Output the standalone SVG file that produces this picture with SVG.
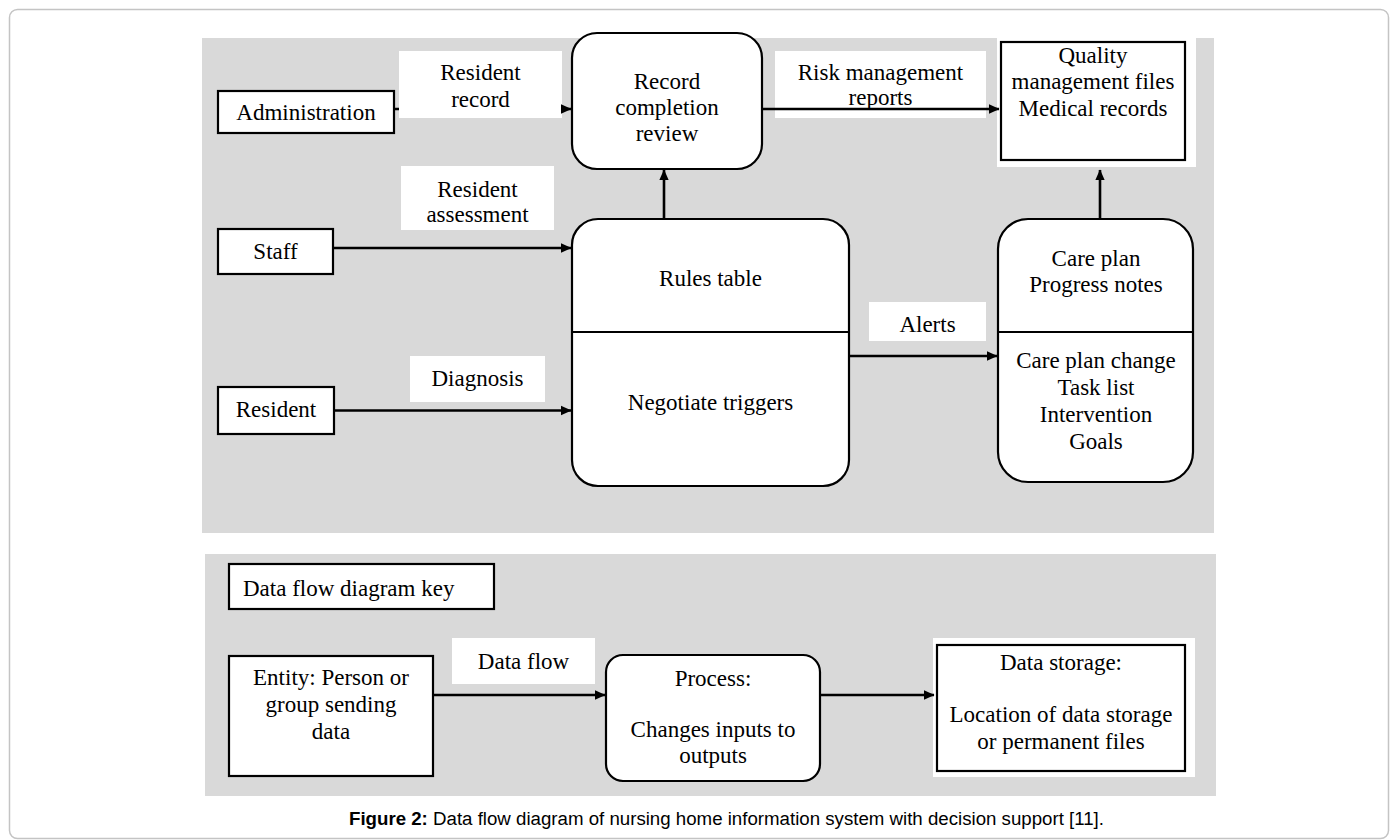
<svg xmlns="http://www.w3.org/2000/svg" width="1398" height="840" viewBox="0 0 1398 840">
  <style>
    .panel { fill: #d9d9d9; }
    .box { fill: #ffffff; stroke: #000000; stroke-width: 2.2; }
    .lbl { fill: #ffffff; }
    .t { font-family: "Liberation Serif", "Times New Roman", serif; font-size: 23px; fill: #000000; text-anchor: middle; }
    .conn { stroke: #000000; stroke-width: 2.6; fill: none; marker-end: url(#arrow); }
    .div { stroke: #000000; stroke-width: 2; }
  </style>
  <defs>
    <marker id="arrow" markerUnits="userSpaceOnUse" viewBox="0 0 10 10" markerWidth="11" markerHeight="11" refX="9.5" refY="5" orient="auto">
      <path d="M0,0.6 L10,5 L0,9.4 z" fill="#000000"/>
    </marker>
  </defs>

  <rect x="9.5" y="9.5" width="1379" height="829" rx="8" fill="#ffffff" stroke="#c4c4c4" stroke-width="1.5"/>

  <rect class="panel" x="202" y="38" width="1012" height="495"/>
  <rect class="panel" x="205" y="554" width="1011" height="242"/>

  <g id="administration">
    <rect class="box" x="218" y="91" width="176" height="42"/>
    <text class="t" x="306" y="120">Administration</text>
  </g>
  <g id="staff">
    <rect class="box" x="218" y="229" width="115" height="45"/>
    <text class="t" x="275.5" y="259">Staff</text>
  </g>
  <g id="resident">
    <rect class="box" x="218" y="387" width="116" height="47"/>
    <text class="t" x="276" y="417">Resident</text>
  </g>
  <g id="record-review">
    <rect class="box" x="572" y="33" width="190" height="136" rx="25"/>
    <text class="t" x="667" y="89">Record</text>
    <text class="t" x="667" y="115">completion</text>
    <text class="t" x="667" y="141">review</text>
  </g>
  <g id="rules">
    <rect class="box" x="572" y="219" width="277" height="267" rx="26"/>
    <line class="div" x1="572" y1="332" x2="849" y2="332"/>
    <text class="t" x="710.5" y="286">Rules table</text>
    <text class="t" x="710.5" y="410">Negotiate triggers</text>
  </g>
  <g id="quality-store">
    <rect class="lbl" x="997" y="38" width="199" height="129"/>
    <rect class="box" x="1001" y="42" width="184" height="118"/>
    <text class="t" x="1093" y="63">Quality</text>
    <text class="t" x="1093" y="89">management files</text>
    <text class="t" x="1093" y="116">Medical records</text>
  </g>
  <g id="care-plan">
    <rect class="box" x="998" y="219" width="195" height="263" rx="30"/>
    <line class="div" x1="998" y1="332" x2="1193" y2="332"/>
    <text class="t" x="1096" y="266">Care plan</text>
    <text class="t" x="1096" y="292">Progress notes</text>
    <text class="t" x="1096" y="368">Care plan change</text>
    <text class="t" x="1096" y="395">Task list</text>
    <text class="t" x="1096" y="422">Intervention</text>
    <text class="t" x="1096" y="449">Goals</text>
  </g>

  <g id="key-title">
    <rect class="box" x="229" y="564" width="265" height="45"/>
    <text class="t" x="243" y="596" style="text-anchor:start">Data flow diagram key</text>
  </g>
  <g id="key-entity">
    <rect class="box" x="229" y="656" width="204" height="120"/>
    <text class="t" x="331" y="685">Entity: Person or</text>
    <text class="t" x="331" y="712">group sending</text>
    <text class="t" x="331" y="739">data</text>
  </g>
  <g id="key-process">
    <rect class="box" x="606" y="655" width="214" height="126" rx="17"/>
    <text class="t" x="713" y="686">Process:</text>
    <text class="t" x="713" y="737">Changes inputs to</text>
    <text class="t" x="713" y="763">outputs</text>
  </g>
  <g id="key-storage">
    <rect class="lbl" x="933" y="638" width="262" height="139"/>
    <rect class="box" x="937" y="645" width="248" height="126"/>
    <text class="t" x="1061" y="670">Data storage:</text>
    <text class="t" x="1061" y="722">Location of data storage</text>
    <text class="t" x="1061" y="749">or permanent files</text>
  </g>

  <g id="labels">
    <rect class="lbl" x="399" y="51" width="163" height="67"/>
    <text class="t" x="480.5" y="80">Resident</text>
    <text class="t" x="480.5" y="107">record</text>
    <rect class="lbl" x="775" y="51" width="211" height="67"/>
    <text class="t" x="880.5" y="80">Risk management</text>
    <text class="t" x="880.5" y="105">reports</text>
    <rect class="lbl" x="401" y="166" width="153" height="64"/>
    <text class="t" x="477.5" y="197">Resident</text>
    <text class="t" x="477.5" y="222">assessment</text>
    <rect class="lbl" x="410" y="356" width="135" height="46"/>
    <text class="t" x="477.5" y="386">Diagnosis</text>
    <rect class="lbl" x="869" y="302" width="117" height="39"/>
    <text class="t" x="927.5" y="332">Alerts</text>
    <rect class="lbl" x="452" y="638" width="143" height="46"/>
    <text class="t" x="523.5" y="669">Data flow</text>
  </g>

  <g id="connectors">
    <path class="conn" d="M394,109 H399 M562,109 H571"/>
    <line class="conn" x1="762" y1="109" x2="999" y2="109"/>
    <line class="conn" x1="664" y1="219" x2="664" y2="170"/>
    <line class="conn" x1="333" y1="248" x2="571" y2="248"/>
    <line class="conn" x1="334" y1="410.5" x2="571" y2="410.5"/>
    <line class="conn" x1="849" y1="356" x2="997" y2="356"/>
    <line class="conn" x1="1100" y1="219" x2="1100" y2="170"/>
    <line class="conn" x1="433" y1="695" x2="605" y2="695"/>
    <line class="conn" x1="820" y1="695" x2="934" y2="695"/>
  </g>

  <text x="726.5" y="825" text-anchor="middle" textLength="755" lengthAdjust="spacingAndGlyphs" style="font-family:'Liberation Sans', Arial, sans-serif; font-size:18px; fill:#000000"><tspan font-weight="bold">Figure 2:</tspan> Data flow diagram of nursing home information system with decision support [11].</text>
</svg>
